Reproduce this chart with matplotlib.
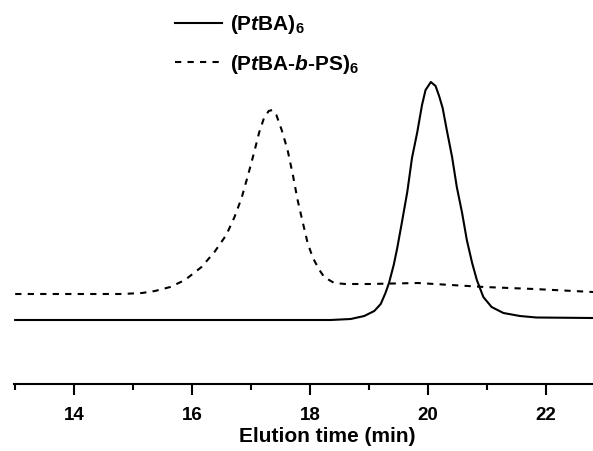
import numpy as np
import matplotlib
matplotlib.use('Agg')
import matplotlib.pyplot as plt
from matplotlib.ticker import MultipleLocator

plt.rcParams['font.family'] = 'Liberation Sans'
plt.rcParams['font.weight'] = 'bold'
plt.rcParams['mathtext.fontset'] = 'custom'
plt.rcParams['mathtext.rm'] = 'Liberation Sans:bold'
plt.rcParams['mathtext.bf'] = 'Liberation Sans:bold'
plt.rcParams['mathtext.it'] = 'Liberation Sans:italic:bold'

# (PtBA)6 trace
t_ptba = [13.0, 18.35, 18.69, 18.92, 19.09, 19.20, 19.28, 19.34, 19.42, 19.48,
          19.56, 19.65, 19.73, 19.82, 19.90, 19.96, 20.05, 20.13, 20.19, 20.25,
          20.32, 20.41, 20.49, 20.58, 20.66, 20.75, 20.83, 20.94, 21.08, 21.28,
          21.56, 21.84, 22.80]
y_ptba = [0, 0, 1, 4, 9, 16, 27, 37, 55, 72,
          98, 128, 162, 188, 215, 230, 238, 234, 224, 212,
          190, 163, 133, 107, 80, 57, 40, 23, 13, 7,
          4, 2.5, 2]

# (PtBA-b-PS)6 trace
t_star = [13.0, 14.81, 15.15, 15.37, 15.63, 15.88, 16.16, 16.38, 16.58, 16.72,
          16.84, 16.95, 17.05, 17.14, 17.22, 17.30, 17.36, 17.43, 17.52, 17.62,
          17.71, 17.79, 17.88, 17.96, 18.05, 18.16, 18.24, 18.41, 18.60, 19.00,
          19.83, 20.11, 20.96, 21.80, 22.80]
y_star = [26, 26, 27, 29, 33, 40, 53, 68, 85, 103,
          122, 145, 167, 188, 202, 209, 210, 205, 190, 170,
          145, 120, 97, 77, 62, 50, 43, 37, 36, 36,
          37, 36, 33, 31, 28]

fig = plt.figure(figsize=(5.93, 4.51), dpi=100)
ax = fig.add_axes([14 / 593, 67.4 / 451, 579 / 593, 383.6 / 451])

ax.plot(t_ptba, y_ptba, color='black', lw=1.5, solid_joinstyle='round',
        label=r'$\mathbf{(P}\mathit{t}\mathbf{BA)}_{\mathbf{6}}$')
ax.plot(t_star, y_star, color='black', lw=1.5, dashes=(3, 3),
        label='$\\mathbf{(P}\\mathit{t}\\mathbf{BA\u2010}\\mathit{b}\\mathbf{\u2010PS)}_{\\mathbf{6}}$')

ax.set_xlim(12.98, 22.80)
ax.set_ylim(-63.6, 320)
ax.xaxis.set_major_locator(MultipleLocator(2))
ax.xaxis.set_minor_locator(MultipleLocator(1))
ax.tick_params(axis='x', which='major', direction='out', length=8, width=1.5, labelsize=13.5, pad=9)
ax.tick_params(axis='x', which='minor', direction='out', length=4.5, width=1.5)
ax.set_yticks([])
for s in ['left', 'right', 'top']:
    ax.spines[s].set_visible(False)
ax.spines['bottom'].set_linewidth(1.5)
ax.set_xlabel('Elution time (min)', fontsize=15, fontweight='bold', labelpad=2.5)
ax.xaxis.set_label_coords((327 - 14) / 579, -(427 - 383.6) / 383.6, transform=ax.transAxes)
ax.xaxis.label.set_va('top')

ax.legend(loc='upper left', bbox_to_anchor=((175 - 14) / 579, 1 - 13 / 383.6), frameon=False,
          fontsize=15, handlelength=2.26, handletextpad=0.38, labelspacing=0.8,
          borderaxespad=0, borderpad=0)

fig.savefig('out.png', dpi=100)
